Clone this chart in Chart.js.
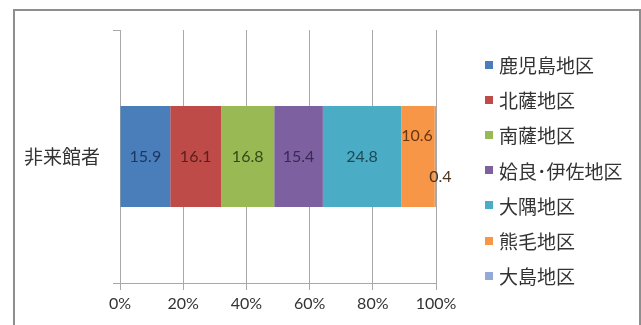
<!DOCTYPE html>
<html>
<head>
<meta charset="utf-8">
<script src="https://cdn.jsdelivr.net/npm/chart.js@4.4.1/dist/chart.umd.min.js"></script>
<style>
  html, body { margin: 0; padding: 0; background: #fff; }
  body { width: 641px; height: 325px; overflow: hidden; position: relative; }
  #frame { position: absolute; left: 13px; top: 9px; width: 628px; height: 340px; border: 2px solid #8e8e8e; box-sizing: border-box; }
  #chart { position: absolute; left: 0; top: 0; }
  #legend { position: absolute; left: 485px; top: 47px; font-family: "Noto Sans CJK JP", sans-serif; font-size: 19px; color: #333; }
  #legend .item { height: 35.2px; display: flex; align-items: center; white-space: nowrap; }
  #legend .box { width: 8px; height: 8px; margin-right: 6px; }
</style>
</head>
<body>
<div id="frame"></div>
<canvas id="chart" width="641" height="325"></canvas>
<div id="legend"></div>
<script>
const categories = ['非来館者'];
const regions = ['鹿児島地区', '北薩地区', '南薩地区', '姶良･伊佐地区', '大隅地区', '熊毛地区', '大島地区'];
const shares = [15.9, 16.1, 16.8, 15.4, 24.8, 10.6, 0.4];
const tickValues = [0, 20, 40, 60, 80, 100];

const fills = ['#4a7ebb', '#be4b48', '#98b954', '#7d60a0', '#4bacc6', '#f79646', '#95a9d8'];
const labelInk = ['#1f3560', '#5a1e1c', '#34491a', '#3a2858', '#1b4a58', '#6a3510', '#4a3420'];
// nudges for the two crowded labels at the right end of the bar
const labelNudge = [[0, 0], [0, 0], [0, 0], [0, 0], [0, 0], [-1, -21], [5, 20]];

const valueLabels = {
    id: 'valueLabels',
    afterDatasetsDraw(chart) {
        const ctx = chart.ctx;
        ctx.save();
        ctx.font = '16px Lato, "Liberation Sans", sans-serif';
        ctx.textAlign = 'center';
        ctx.textBaseline = 'middle';
        chart.data.datasets.forEach((ds, i) => {
            const bar = chart.getDatasetMeta(i).data[0];
            const cx = (bar.x + bar.base) / 2 + labelNudge[i][0];
            const cy = bar.y + labelNudge[i][1];
            ctx.fillStyle = labelInk[i];
            ctx.fillText(String(ds.data[0]), cx, cy);
        });
        ctx.restore();
    }
};

const legend = document.getElementById('legend');
regions.forEach((name, i) => {
    const row = document.createElement('div');
    row.className = 'item';
    row.innerHTML = `<span class="box" style="background:${fills[i]}"></span><span>${name}</span>`;
    legend.appendChild(row);
});

new Chart(document.getElementById('chart'), {
    type: 'bar',
    data: {
        labels: categories,
        datasets: regions.map((name, i) => ({
            label: name,
            data: [shares[i]],
            backgroundColor: fills[i],
            borderWidth: 0,
            barPercentage: 0.4,
            categoryPercentage: 1
        }))
    },
    options: {
        indexAxis: 'y',
        responsive: false,
        animation: false,
        devicePixelRatio: 1,
        layout: { padding: { left: 0, top: 30, right: 205, bottom: 0 } },
        plugins: { legend: { display: false }, tooltip: { enabled: false } },
        scales: {
            x: {
                stacked: true,
                min: 0, max: 100,
                afterFit: s => { s.height = 42; },
                afterBuildTicks: s => { s.ticks = tickValues.map(v => ({ value: v })); },
                ticks: { callback: v => v + '%', color: '#333', padding: 4, font: { family: 'Lato, "Liberation Sans", sans-serif', size: 16 } },
                grid: { color: '#a8a8a8', tickLength: 7, lineWidth: 1 },
                border: { color: '#a8a8a8' }
            },
            y: {
                stacked: true,
                afterFit: s => { s.width = 120; },
                ticks: { color: '#333', padding: 13, font: { family: '"Noto Sans CJK JP", sans-serif', size: 19 } },
                grid: { drawOnChartArea: false, color: '#a8a8a8', tickLength: 7, offset: true },
                border: { color: '#a8a8a8' }
            }
        }
    },
    plugins: [valueLabels]
});
</script>
</body>
</html>
